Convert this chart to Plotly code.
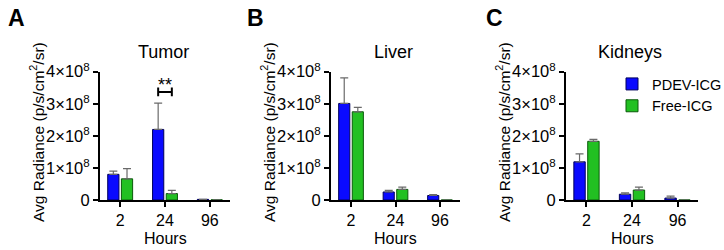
import plotly.graph_objects as go

hours = ["2", "24", "96"]
series_names = ["PDEV-ICG", "Free-ICG"]
organs = ["Tumor", "Liver", "Kidneys"]
panel_letters = ["A", "B", "C"]

# means (p/s/cm2/sr)
tumor_pdev = [0.80e8, 2.20e8, 0.02e8]
tumor_free = [0.66e8, 0.20e8, 0.005e8]
liver_pdev = [3.01e8, 0.25e8, 0.14e8]
liver_free = [2.75e8, 0.33e8, 0.0]
kidney_pdev = [1.19e8, 0.18e8, 0.06e8]
kidney_free = [1.83e8, 0.31e8, 0.0]

# upper error (SEM)
tumor_pdev_err = [0.10e8, 0.82e8, 0.0]
tumor_free_err = [0.32e8, 0.10e8, 0.0]
liver_pdev_err = [0.80e8, 0.05e8, 0.025e8]
liver_free_err = [0.14e8, 0.07e8, 0.0]
kidney_pdev_err = [0.25e8, 0.04e8, 0.06e8]
kidney_free_err = [0.06e8, 0.09e8, 0.0]

y_tickvals = [0, 1e8, 2e8, 3e8, 4e8]
y_ticktext = ["0", "1×10<sup>8</sup>", "2×10<sup>8</sup>", "3×10<sup>8</sup>", "4×10<sup>8</sup>"]

sig_label = "**"
sig_y = 3.37e8
sig_category = 1

colors = ["#0a0aff", "#22c022"]
outline = ["#00005a", "#0a5a0a"]

pdev_all = [tumor_pdev, liver_pdev, kidney_pdev]
free_all = [tumor_free, liver_free, kidney_free]
pdev_err_all = [tumor_pdev_err, liver_pdev_err, kidney_pdev_err]
free_err_all = [tumor_free_err, liver_free_err, kidney_free_err]

W, H = 724, 250
x_domains = [(100, 230), (331, 460), (566, 698)]
plot_top, plot_bottom = 71.7, 200
ydom = [1 - plot_bottom / H, 1 - plot_top / H]
BARGAP = 0.39
BARGROUPGAP = 0.18

fig = go.Figure()
font = "Arial, Liberation Sans, sans-serif"


def ann(text, px, py, size, **kw):
    fig.add_annotation(text=text, x=px / W, y=1 - py / H, xref="paper", yref="paper",
                       xanchor="center", yanchor="middle", showarrow=False,
                       font=dict(size=size, color="black", family=font), **kw)


for i in range(3):
    ax = "" if i == 0 else str(i + 1)
    for j, (vals, errs) in enumerate([(pdev_all[i], pdev_err_all[i]), (free_all[i], free_err_all[i])]):
        fig.add_trace(go.Bar(
            x=list(range(len(hours))), y=vals,
            name=series_names[j],
            marker=dict(color=colors[j], line=dict(color=outline[j], width=1)),
            error_y=dict(type="data", symmetric=False, array=errs,
                         arrayminus=[0] * len(errs), color="#6a6a6a",
                         thickness=1.2, width=4),
            xaxis="x" + ax, yaxis="y" + ax,
            showlegend=(i == 2), offsetgroup=str(j),
        ))
    d = x_domains[i]
    fig.layout["xaxis" + ax] = dict(
        domain=[d[0] / W, d[1] / W], range=[-0.45, 2.45],
        tickvals=list(range(len(hours))), ticktext=hours,
        showline=True, linecolor="black", linewidth=2,
        ticks="outside", ticklen=5, tickwidth=1.5, tickcolor="black",
        showgrid=False, zeroline=False, anchor="y" + ax, automargin=False,
        tickfont=dict(size=16, color="black", family=font),
    )
    fig.layout["yaxis" + ax] = dict(
        domain=ydom, range=[0, 4e8],
        tickvals=y_tickvals, ticktext=y_ticktext,
        showline=True, linecolor="black", linewidth=2,
        ticks="outside", ticklen=5, tickwidth=1.5, tickcolor="black",
        showgrid=False, zeroline=False, anchor="x" + ax, automargin=False,
        tickfont=dict(size=16.5, color="black", family=font),
    )
    cx = (d[0] + d[1]) / 2
    ann(organs[i], cx - 2, 52, 18)
    ann("Hours", cx, 238, 16)
    ann("Avg Radiance (p/s/cm<sup>2</sup>/sr)", d[0] - 63, 132, 15.5, textangle=-90)
    ann("<b>" + panel_letters[i] + "</b>", [16, 255, 495][i], 18, 23)

# significance bracket in panel A, between bar centers of the 24h group
slot = (1 - BARGAP) / 2
x_left = sig_category - slot / 2
x_right = sig_category + slot / 2
tick_h = 0.135e8
for xx in (x_left, x_right):
    fig.add_shape(type="line", x0=xx, x1=xx, y0=sig_y - tick_h, y1=sig_y + tick_h,
                  xref="x", yref="y", line=dict(color="black", width=2))
fig.add_shape(type="line", x0=x_left, x1=x_right, y0=sig_y, y1=sig_y,
              xref="x", yref="y", line=dict(color="black", width=2))
fig.add_annotation(text=sig_label, x=sig_category, y=sig_y + tick_h, xref="x", yref="y",
                   xanchor="center", yanchor="bottom", showarrow=False, yshift=-9,
                   font=dict(size=18, color="black", family=font))

fig.update_layout(
    width=W, height=H, margin=dict(l=0, r=0, t=0, b=0, autoexpand=False),
    paper_bgcolor="white", plot_bgcolor="white",
    barmode="group", bargap=BARGAP, bargroupgap=BARGROUPGAP,
    legend=dict(x=612 / W, y=1 - 68 / H, xanchor="left", yanchor="top",
                font=dict(size=14.5, color="black", family=font),
                bgcolor="rgba(0,0,0,0)", tracegroupgap=0, itemwidth=30),
)

fig.write_html("out.html", config={"displayModeBar": False},
               post_script="document.body.style.margin='0';document.body.style.overflow='hidden';")
